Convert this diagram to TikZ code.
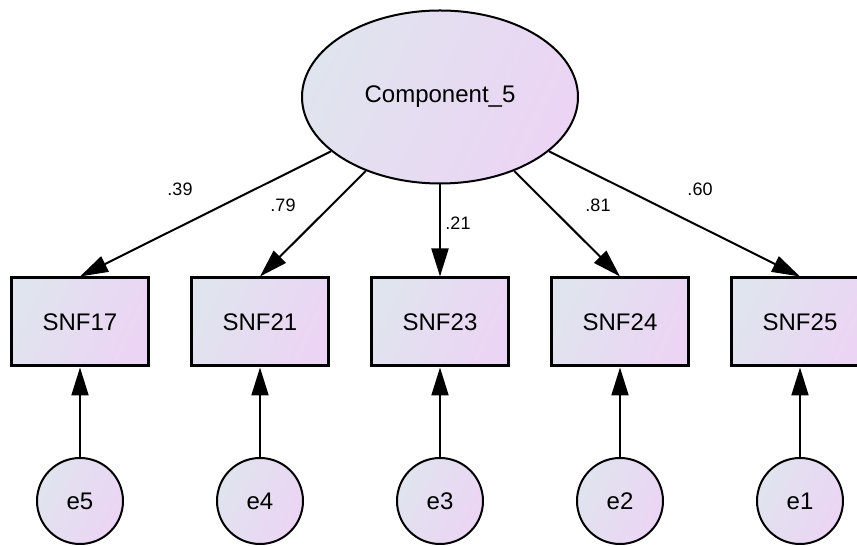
\documentclass[tikz,border=0pt]{standalone}
\usepackage{fontspec}
\setmainfont{Liberation Sans}
\usetikzlibrary{arrows.meta,shapes.geometric}

\definecolor{shadeleft}{RGB}{224,228,238}
\definecolor{shaderight}{RGB}{236,212,244}

\tikzset{
  fillshade/.style={left color=shadeleft, right color=shaderight, shading angle=65},
  latent/.style={ellipse, draw, line width=2pt, fillshade, minimum width=276pt, minimum height=173pt, inner sep=0pt, font=\fontsize{24}{28}\selectfont},
  observed/.style={rectangle, draw, line width=3pt, fillshade, minimum width=137pt, minimum height=88pt, inner sep=0pt, font=\fontsize{24}{28}\selectfont},
  errvar/.style={circle, draw, line width=2pt, fillshade, minimum size=86pt, inner sep=0pt, font=\fontsize{24}{28}\selectfont},
  regr/.style={line width=2pt, -{Triangle[length=28pt,width=17pt]}},
  weight/.style={inner sep=0pt, font=\fontsize{18}{20}\selectfont}
}

\begin{document}
\begin{tikzpicture}[x=1pt,y=1pt]
            \clip (0,0) rectangle (857,546);
            \node [latent] (comp) at (440,449) {Component\_5};
            \node [observed] (snf17) at (80,224) {SNF17};
            \node [observed] (snf21) at (260,224) {SNF21};
            \node [observed] (snf23) at (440,224) {SNF23};
            \node [observed] (snf24) at (620,224) {SNF24};
            \node [observed] (snf25) at (800,224) {SNF25};
            \node [errvar] (e5) at (80,45) {e5};
            \node [errvar] (e4) at (260,45) {e4};
            \node [errvar] (e3) at (440,45) {e3};
            \node [errvar] (e2) at (620,45) {e2};
            \node [errvar] (e1) at (800,45) {e1};
            \draw [regr] (comp) -- (snf17.north);
            \draw [regr] (comp) -- (snf21.north);
            \draw [regr] (comp) -- (snf23.north);
            \draw [regr] (comp) -- (snf24.north);
            \draw [regr] (comp) -- (snf25.north);
            \draw [regr] (e5) -- (snf17);
            \draw [regr] (e4) -- (snf21);
            \draw [regr] (e3) -- (snf23);
            \draw [regr] (e2) -- (snf24);
            \draw [regr] (e1) -- (snf25);
            \node [weight] (w17) at (180,357) {.39};
            \node [weight] (w21) at (283,341) {.79};
            \node [weight] (w23) at (458,323) {.21};
            \node [weight] (w24) at (598,341) {.81};
            \node [weight] (w25) at (700,357) {.60};
        \end{tikzpicture}
\end{document}
